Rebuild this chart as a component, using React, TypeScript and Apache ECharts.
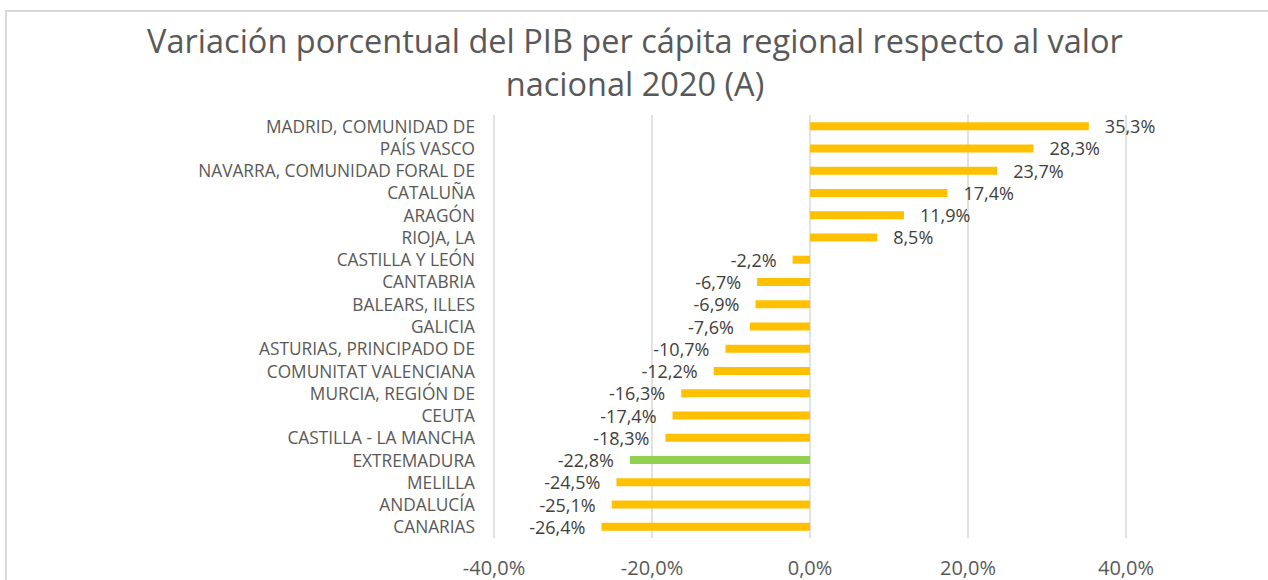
import React, { useEffect, useRef } from "react";
import * as echarts from "echarts";

const categories = [
  "MADRID, COMUNIDAD DE",
  "PAÍS VASCO",
  "NAVARRA, COMUNIDAD FORAL DE",
  "CATALUÑA",
  "ARAGÓN",
  "RIOJA, LA",
  "CASTILLA Y LEÓN",
  "CANTABRIA",
  "BALEARS, ILLES",
  "GALICIA",
  "ASTURIAS, PRINCIPADO DE",
  "COMUNITAT VALENCIANA",
  "MURCIA, REGIÓN DE",
  "CEUTA",
  "CASTILLA - LA MANCHA",
  "EXTREMADURA",
  "MELILLA",
  "ANDALUCÍA",
  "CANARIAS",
];
const values = [35.3, 28.3, 23.7, 17.4, 11.9, 8.5, -2.2, -6.7, -6.9, -7.6, -10.7, -12.2, -16.3, -17.4, -18.3, -22.8, -24.5, -25.1, -26.4];
const highlighted = ["EXTREMADURA"];
const xTicks = [-40, -20, 0, 20, 40];

const FONT = "'Open Sans', sans-serif";
const GREY = "#595959";

const fmt = (v: number) => v.toFixed(1).replace(".", ",") + "%";

export default function App() {
  const ref = useRef<HTMLDivElement>(null);
  useEffect(() => {
    if (!ref.current) return;
    const chart = echarts.init(ref.current, undefined, { renderer: "svg" });
    chart.setOption({
      animation: false,
      textStyle: { fontFamily: FONT },
      title: {
        text: "Variación porcentual del PIB per cápita regional respecto al valor\nnacional 2020 (A)",
        left: 630,
        top: 14,
        textAlign: "center",
        textStyle: { fontFamily: FONT, fontSize: 32.5, lineHeight: 43, fontWeight: "normal", color: GREY },
      },
      graphic: [
        {
          type: "rect",
          shape: { x: 6, y: 11, width: 1400, height: 700 },
          style: { fill: "none", stroke: "#d9d9d9", lineWidth: 2 },
          silent: true,
        },
      ],
      grid: { left: 494, right: 142, top: 115, bottom: 42, containLabel: false },
      xAxis: {
        type: "value",
        min: xTicks[0],
        max: xTicks[xTicks.length - 1],
        interval: 20,
        axisLine: { show: false },
        axisTick: { show: false },
        splitLine: { show: true, lineStyle: { color: "#d9d9d9", width: 1.5 } },
        axisLabel: { formatter: (v: number) => fmt(v), fontSize: 20, color: GREY, margin: 19, fontFamily: FONT },
      },
      yAxis: {
        type: "category",
        data: categories,
        inverse: true,
        axisLine: { show: false },
        axisTick: { show: false },
        splitLine: { show: false },
        axisLabel: { fontSize: 17.3, color: GREY, margin: 19, fontFamily: FONT },
      },
      series: [
        {
          type: "bar",
          barWidth: 8,
          data: values.map((v, i) => ({
            value: v,
            itemStyle: { color: highlighted.includes(categories[i]) ? "#92D050" : "#FFC000" },
            label: {
              show: true,
              position: v >= 0 ? "right" : "left",
              distance: 16,
              formatter: () => fmt(v),
              fontSize: 18,
              color: "#404040",
              fontFamily: FONT,
            },
          })),
        },
      ],
    });
    return () => chart.dispose();
  }, []);
  return <div ref={ref} style={{ position: "absolute", left: 0, top: 0, width: 1268, height: 580 }} />;
}
